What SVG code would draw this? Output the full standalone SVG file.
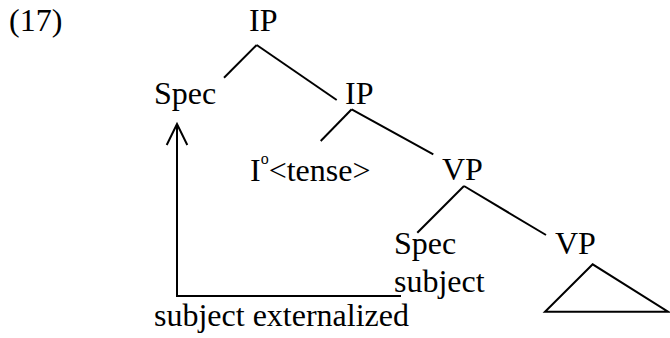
<svg xmlns="http://www.w3.org/2000/svg" width="670" height="338" viewBox="0 0 670 338">
<style>
.e{stroke:#000;stroke-width:2;fill:none}
</style>
<rect width="670" height="338" fill="#fff"/>
<g font-family="Liberation Serif, serif" font-size="32" fill="#000">
<text x="9" y="31">(17)</text>
<g id="ip1"><text x="249" y="31">IP</text></g>
<g id="spec1"><text x="154" y="104">Spec</text></g>
<g id="ip2"><text x="345" y="104">IP</text></g>
<g id="i0"><text x="250" y="181">I<tspan font-size="16" dy="-17">o</tspan><tspan dy="17">&lt;tense&gt;</tspan></text></g>
<g id="vp1"><text x="442" y="180">VP</text></g>
<g id="spec2"><text x="394" y="254">Spec</text><text x="394" y="292">subject</text></g>
<g id="vp2"><text x="555" y="254">VP</text></g>
<g id="label"><text x="154" y="326">subject externalized</text></g>
</g>
<g id="tri"><polygon class="e" points="592.7,264.3 545,311.7 668,311.7"/></g>
<g id="connectors" class="e">
<line x1="256.7" y1="45" x2="224" y2="77.7"/>
<line x1="256.7" y1="45" x2="336.7" y2="100"/>
<line x1="351.7" y1="109.3" x2="320.7" y2="141"/>
<line x1="351.7" y1="109.3" x2="433.3" y2="154.3"/>
<line x1="464" y1="186" x2="417.3" y2="232.7"/>
<line x1="464" y1="186" x2="546" y2="235"/>
<polyline points="401,296 177,296 177,124"/>
<polyline points="166.7,145 177,124 187.3,145"/>
</g>
</svg>
